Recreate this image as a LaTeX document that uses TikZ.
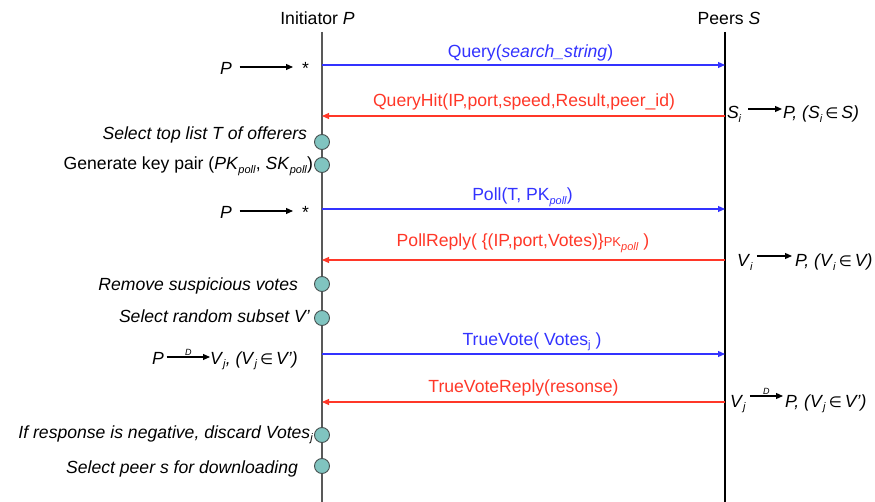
\documentclass[tikz,border=0pt]{standalone}
\usepackage{fontspec}
\setmainfont{Liberation Sans}
\newfontfamily\symfont{DejaVu Sans}
\usetikzlibrary{arrows.meta}

\definecolor{msgblue}{RGB}{51,51,255}
\definecolor{msgred}{RGB}{255,55,40}
\definecolor{evfill}{RGB}{128,196,192}
\definecolor{evline}{RGB}{70,80,80}

% lowered small subscript
\newcommand\lo[1]{\raisebox{-0.35ex}{\fontsize{11}{11}\selectfont #1}}
\newcommand\elem{{\symfont\upshape\fontsize{15}{15}\selectfont ∈}}

\begin{document}
\begin{tikzpicture}[x=1pt,y=-1pt,
  every node/.style={font=\fontsize{17.6}{20}\selectfont, inner sep=0pt, outer sep=0pt},
  lbl/.style={anchor=base},
  lefttxt/.style={anchor=base east},
  lbw/.style={anchor=base west},
  event/.style={circle, draw=evline, fill=evfill, minimum size=15pt, line width=0.9pt},
  lifeP/.style={draw=black!65, line width=1.4pt},
  lifeS/.style={draw=black, line width=1.1pt},
  msgtip/.style={-{Triangle[length=7pt,width=6pt]}},
  callmsg/.style={msgtip, draw=msgblue, line width=1.1pt},
  replymsg/.style={msgtip, draw=msgred, line width=1.1pt},
  flow/.style={-{Triangle[length=7pt,width=6pt]}, draw=black, line width=1.1pt},
  dmark/.style={font=\fontsize{9}{9}\selectfont\itshape, above=1.5pt}
]
\useasboundingbox (0,0) rectangle (875,502);

% lifelines
\node[lbl] (initP) at (317.5,25) {Initiator \textit{P}};
\node[lbl] (peersS) at (729,25) {Peers \textit{S}};
\coordinate (ptop) at (322,32);
\coordinate (pbot) at (322,502);
\coordinate (stop) at (725,32);
\coordinate (sbot) at (725,502);
\draw[lifeP] (ptop) -- (pbot);
\draw[lifeS] (stop) -- (sbot);

% message end points
\coordinate (m1p) at (322,65);  \coordinate (m1s) at (725,65);
\coordinate (m2p) at (322,116); \coordinate (m2s) at (725,116);
\coordinate (m3p) at (322,209); \coordinate (m3s) at (725,209);
\coordinate (m4p) at (322,260); \coordinate (m4s) at (725,260);
\coordinate (m5p) at (322,354); \coordinate (m5s) at (725,354);
\coordinate (m6p) at (322,402); \coordinate (m6s) at (725,402);

\draw[callmsg] (m1p) -- (m1s);
\draw[replymsg] (m2s) -- (m2p);
\draw[callmsg] (m3p) -- (m3s);
\draw[replymsg] (m4s) -- (m4p);
\draw[callmsg] (m5p) -- (m5s);
\draw[replymsg] (m6s) -- (m6p);

% message labels
\node[lbl, text=msgblue] (l1) at (530.5,58) {Query(\textit{search\_string})};
\node[lbl, text=msgred] (l2) at (524,107) {QueryHit(IP,port,speed,Result,peer\_id)};
\node[lbl, text=msgblue] (l3) at (522.5,201) {Poll(T, PK\lo{\textit{poll}})};
\node[lbl, text=msgred] (l4) at (523,247) {PollReply( \{(IP,port,Votes)\}{\fontsize{13}{13}\selectfont PK}\lo{\textit{poll}} )};
\node[lbl, text=msgblue] (l5) at (532,345) {TrueVote( Votes\lo{j} )};
\node[lbl, text=msgred] (l6) at (523.5,392) {TrueVoteReply(resonse)};

% local events on the initiator
\node[event] (e1) at (322,142) {};
\node[event] (e2) at (322,165) {};
\node[event] (e3) at (322,284) {};
\node[event] (e4) at (322,318) {};
\node[event] (e5) at (322,435) {};
\node[event] (e6) at (322,466) {};

\node[lefttxt] (t1) at (307,140) {\textit{Select top list T of offerers}};
\node[lefttxt] (t2) at (313,170) {Generate key pair (\textit{PK}\lo{\textit{poll}}, \textit{SK}\lo{\textit{poll}})};
\node[lefttxt] (t3) at (298,291) {\textit{Remove suspicious votes}};
\node[lefttxt] (t4) at (310,323) {\textit{Select random subset V'}};
\node[lefttxt] (t5) at (313,438) {\textit{If response is negative, discard Votes}\lo{\textit{j}}};
\node[lefttxt] (t6) at (298,473) {\textit{Select peer s for downloading}};

% flooding: P -> *
\node[lbw] (fa) at (220,75) {\textit{P}};
\node[lbw] (fb) at (302,75) {*};
\draw[flow] ([shift={(8,-8)}]fa.base east) -- ([shift={(-9,-8)}]fb.base west);

\node[lbw] (fc) at (220,219) {\textit{P}};
\node[lbw] (fd) at (302,219) {*};
\draw[flow] ([shift={(8,-8)}]fc.base east) -- ([shift={(-9,-8)}]fd.base west);

% direct: P -D-> V_j
\node[lbw] (da) at (152,364) {\textit{P}};
\node[lbw] (db) at (210,364) {\textit{V}\lo{\textit{j}}\textit{, (V}\lo{\textit{j}}\,\elem\,\textit{V')}};
\draw[flow] ([shift={(3,-7)}]da.base east) -- node[dmark] {D} ([shift={(0,-7)}]db.base west);

% replies on the peer side
\node[lbw] (ra) at (727,119) {\textit{S}\lo{\textit{i}}};
\node[lbw] (rb) at (783,119) {\textit{P, (S}\lo{\textit{i}}\,\elem\,\textit{S)}};
\draw[flow] ([shift={(7,-10)}]ra.base east) -- ([shift={(-1,-10)}]rb.base west);

\node[lbw] (rc) at (737,267) {\textit{V}\lo{\textit{i}}};
\node[lbw] (rd) at (795,267) {\textit{P, (V}\lo{\textit{i}}\,\elem\,\textit{V)}};
\draw[flow] ([shift={(4,-11)}]rc.base east) -- ([shift={(-3,-11)}]rd.base west);

\node[lbw] (re) at (730,407) {\textit{V}\lo{\textit{j}}};
\node[lbw] (rf) at (785,407) {\textit{P, (V}\lo{\textit{j}}\,\elem\,\textit{V')}};
\draw[flow] ([shift={(4,-11)}]re.base east) -- node[dmark] {D} ([shift={(-2,-11)}]rf.base west);
\end{tikzpicture}
\end{document}
